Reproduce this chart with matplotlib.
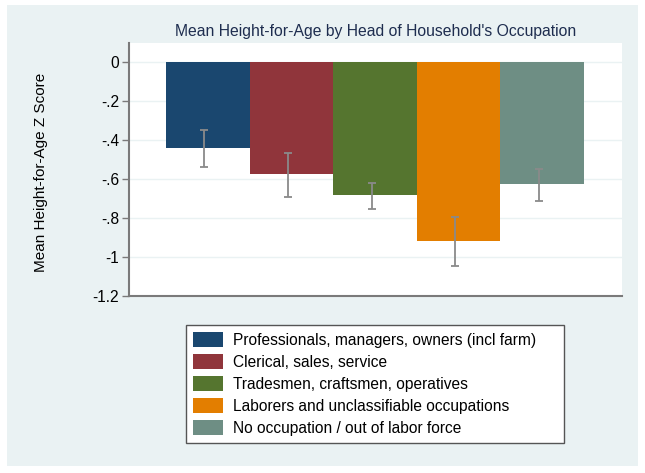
import numpy as np
import matplotlib
matplotlib.use("Agg")
from matplotlib import pyplot as plt
from matplotlib.patches import Rectangle

plt.rcParams["font.family"] = ["Liberation Sans", "DejaVu Sans"]

# occupation groups (legend order)
groups = ["Professionals, managers, owners (incl farm)",
          "Clerical, sales, service",
          "Tradesmen, craftsmen, operatives",
          "Laborers and unclassifiable occupations",
          "No occupation / out of labor force"]
means = [-0.445, -0.576, -0.684, -0.920, -0.628]
ci_hi = [-0.351, -0.467, -0.621, -0.797, -0.551]
ci_lo = [-0.540, -0.694, -0.756, -1.046, -0.716]
colors = ["#1a476f", "#90353b", "#55752f", "#e37e00", "#6e8e84"]
yticks = [0, -0.2, -0.4, -0.6, -0.8, -1, -1.2]
ytick_labels = ["0", "-.2", "-.4", "-.6", "-.8", "-1", "-1.2"]

W, H = 645, 473
fig = plt.figure(figsize=(W/100, H/100), dpi=100)
fig.patch.set_facecolor("white")
bg = "#eaf2f3"
fig.patches.append(Rectangle((7/W, 7/H), 631/W, 461/H, transform=fig.transFigure,
                             facecolor=bg, edgecolor="none", zorder=-5))

ax = fig.add_axes([129/W, (H-296)/H, 493/W, 253/H])
ax.set_zorder(1)
ax.set_facecolor("white")

x = np.arange(len(means))
bars = ax.bar(x, means, width=1.0, color=colors, edgecolor="none", zorder=2)
m = np.array(means)
yerr = [m - np.array(ci_lo), np.array(ci_hi) - m]
ax.errorbar(x - 0.04, means, yerr=yerr, fmt="none", ecolor="#8a8a8a",
            elinewidth=1.3, capsize=3, capthick=1.3, zorder=3)

ax.set_xlim(-0.943, 4.955)
ax.set_ylim(-1.2, 0.095)
ax.set_yticks(yticks)
ax.set_yticklabels(ytick_labels, fontsize=11.2)
ax.set_xticks([])
ax.yaxis.grid(True, color=bg, linewidth=1.0, zorder=0)
ax.set_axisbelow(True)
ax.tick_params(axis="y", length=5, width=1, color="#7a7a7a", pad=2)
for s in ["top", "right"]:
    ax.spines[s].set_visible(False)
for s in ["left", "bottom"]:
    ax.spines[s].set_color("#7a7a7a")
    ax.spines[s].set_linewidth(1.5)

ax.set_title("Mean Height-for-Age by Head of Household's Occupation",
             fontsize=11.3, color="#1e2d4f", pad=5)
ax.set_ylabel("Mean Height-for-Age Z Score", fontsize=11)
ax.yaxis.set_label_coords(-81/493, 0.49)

leg = fig.legend(bars, groups, loc="upper left",
                 bbox_to_anchor=(186/W, (H-443)/H, 378/W, 118/H),
                 mode="expand", fontsize=11.2, frameon=True, fancybox=False,
                 framealpha=1, handlelength=1.9, handleheight=1.1, handletextpad=0.7,
                 labelspacing=0.4, borderpad=0.45, borderaxespad=0)
leg.get_frame().set_edgecolor("#555555")
leg.get_frame().set_linewidth(1.0)

fig.savefig("out.png", dpi=100, facecolor=fig.get_facecolor())
